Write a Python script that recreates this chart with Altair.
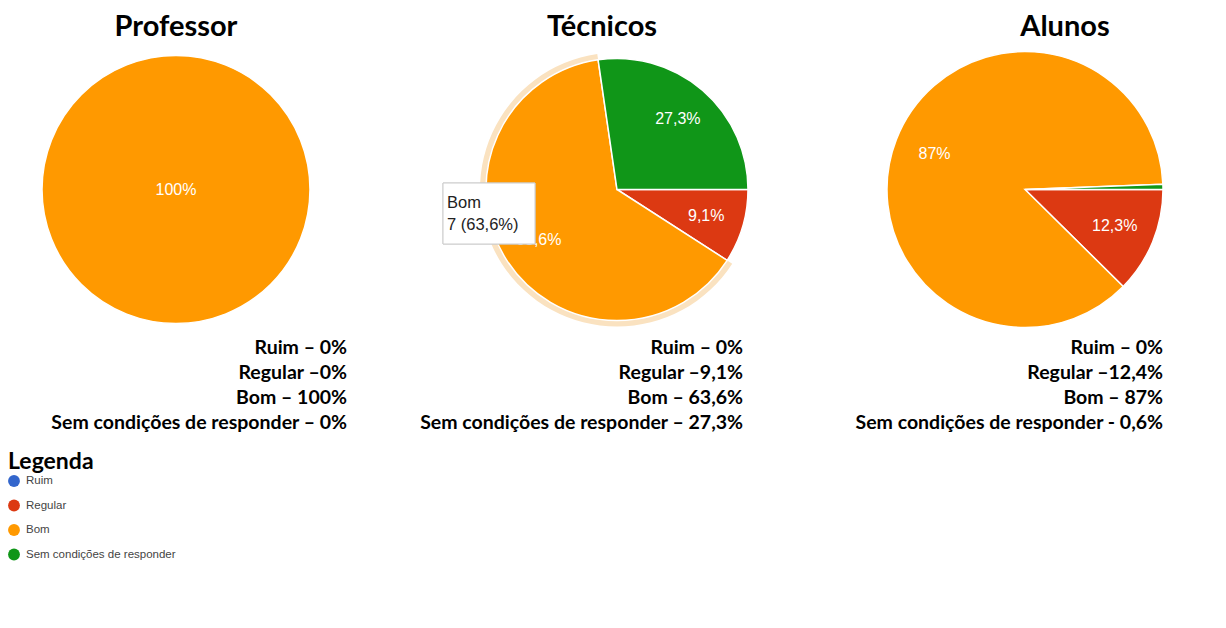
import math
import altair as alt
import pandas as pd

# ---------------- data ----------------
categories = ["Ruim", "Regular", "Bom", "Sem condições de responder"]
colors = ["#3366cc", "#dc3912", "#ff9900", "#109618"]
groups = ["Professor", "Técnicos", "Alunos"]

professor_values = [0, 0, 100, 0]
tecnicos_values = [0, 9.1, 63.6, 27.3]
alunos_values = [0, 12.4, 87.0, 0.6]

professor_labels = ["", "", "100%", ""]
tecnicos_labels = ["", "9,1%", "63,6%", "27,3%"]
alunos_labels = ["", "12,3%", "87%", ""]

professor_lines = ["Ruim – 0%", "Regular –0%", "Bom – 100%", "Sem condições de responder – 0%"]
tecnicos_lines = ["Ruim – 0%", "Regular –9,1%", "Bom – 63,6%", "Sem condições de responder – 27,3%"]
alunos_lines = ["Ruim – 0%", "Regular –12,4%", "Bom – 87%", "Sem condições de responder - 0,6%"]

tooltip_lines = ["Bom", "7 (63,6%)"]
legend_title = "Legenda"

BOLD_FONT = "Lato"
PLAIN_FONT = "Liberation Sans"

TITLE_H = 36
PIE_H = 291
LIST_H = 101

legend = alt.Legend(
    orient="none", legendX=0, legendY=443, direction="vertical", title=legend_title,
    titleFont=BOLD_FONT, titleFontSize=23, titleFontWeight="bold", titleColor="#000000",
    titlePadding=1, labelFont=PLAIN_FONT, labelFontSize=11.5, labelColor="#444444",
    symbolType="circle", symbolSize=140, symbolStrokeWidth=0, rowPadding=12.5,
    labelOffset=6,
)

color_scale = alt.Scale(domain=categories, range=colors)
theta_scale = alt.Scale(domain=[0, 100], range=[math.pi / 2, 5 * math.pi / 2])


def title_chart(name, width, dx):
    return alt.Chart(pd.DataFrame({"g": [name]})).mark_text(
        font=BOLD_FONT, fontSize=29, fontWeight="bold", align="center", baseline="middle",
        color="#000000").encode(
        text="g:N", x=alt.value(width / 2 + dx), y=alt.value(19)
    ).properties(width=width, height=TITLE_H)


def pie_chart(values, labels, width, radius, label_r, halo=False, tooltip=False):
    df = pd.DataFrame({"category": categories, "idx": list(range(len(categories))),
                       "value": values, "label": labels})
    base = alt.Chart(df).transform_filter("datum.value > 0").encode(
        theta=alt.Theta("value:Q", stack=True, scale=theta_scale),
        order=alt.Order("idx:Q", sort="ascending"),
    )
    layers = []
    if halo:
        layers.append(base.mark_arc(outerRadius=radius + 6).encode(
            color=alt.condition("datum.category == 'Bom'", alt.value("#fae2c0"),
                                alt.value("transparent"))))
    layers.append(base.mark_arc(outerRadius=radius, stroke="white", strokeWidth=1.5).encode(
        color=alt.Color("category:N", scale=color_scale, legend=legend)))
    layers.append(base.transform_filter("datum.label != ''").mark_text(
        radius=label_r, font=PLAIN_FONT, fontSize=16, color="white").encode(text="label:N"))
    if tooltip:
        tip = pd.DataFrame({"line": tooltip_lines})
        layers.append(alt.Chart(tip).mark_rect(fill="white", stroke="#cccccc", strokeWidth=1).encode(
            x=alt.value(-47), x2=alt.value(45), y=alt.value(139), y2=alt.value(200)))
        layers.append(alt.Chart(tip).transform_filter(f"datum.line == '{tooltip_lines[0]}'").mark_text(
            align="left", font=PLAIN_FONT, fontSize=16.5, color="#222222").encode(
            text="line:N", x=alt.value(-43), y=alt.value(159)))
        layers.append(alt.Chart(tip).transform_filter(f"datum.line == '{tooltip_lines[1]}'").mark_text(
            align="left", font=PLAIN_FONT, fontSize=16.5, color="#222222").encode(
            text="line:N", x=alt.value(-43), y=alt.value(181)))
    return alt.layer(*layers).properties(width=width, height=PIE_H)


def list_chart(lines, width, dx):
    return alt.Chart(pd.DataFrame({"line": lines, "idx": list(range(len(lines)))})).mark_text(
        align="right", baseline="middle", font=BOLD_FONT, fontSize=19.5, fontWeight="bold",
        color="#000000", dx=dx).encode(
        y=alt.Y("idx:O", axis=None), text="line:N", x=alt.value(width)
    ).properties(width=width, height=LIST_H)


W1, W2, W3 = 336, 254, 270

cells = [
    title_chart(groups[0], W1, 0),
    title_chart(groups[1], W2, -15),
    title_chart(groups[2], W3, 40),
    pie_chart(professor_values, professor_labels, W1, radius=134, label_r=0),
    pie_chart(tecnicos_values, tecnicos_labels, W2, radius=131, label_r=93, halo=True, tooltip=True),
    pie_chart(alunos_values, alunos_labels, W3, radius=138, label_r=97),
    list_chart(professor_lines, W1, 3),
    list_chart(tecnicos_lines, W2, -1),
    list_chart(alunos_lines, W3, 3),
]

chart = alt.concat(*cells, columns=3, spacing={"row": 0, "column": 146}, bounds="flush").resolve_scale(
    color="shared", theta="shared"
).resolve_legend(color="shared").properties(padding=0).configure_view(stroke=None)

chart.save("out.html", embed_options={"renderer": "svg", "actions": False})
